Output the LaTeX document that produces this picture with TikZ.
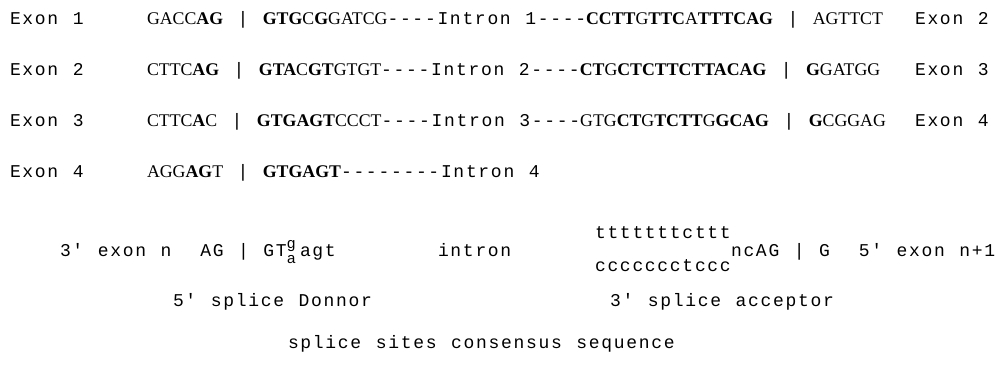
\documentclass[tikz,border=0pt]{standalone}
\usepackage{fontspec}
\setmainfont{Liberation Mono}[Ligatures=TeXOff]
\newfontfamily\cour{Liberation Mono}[Ligatures=TeXOff, LetterSpace=9.44, WordSpace=1.1574]
\newfontfamily\seqfont{Liberation Serif}[Ligatures=TeXOff]
\newfontfamily\supfont{Liberation Sans}[Ligatures=TeXOff]
\newcommand\cfs{\cour\fontsize{18}{22}\selectfont}
\newcommand\seqR[1]{{\seqfont\fontsize{17.8}{20}\selectfont #1}}
\newcommand\seqB[1]{{\seqfont\bfseries\fontsize{17.8}{20}\selectfont #1}}
\tikzset{txt/.style={inner sep=0pt, outer sep=0pt, anchor=base west, font=\cfs}}
\begin{document}
\begin{tikzpicture}[x=1pt,y=-1pt]
\useasboundingbox[fill=white] (0,0) rectangle (995,364);
% row 1
\node[txt] (e1) at (10,24) {Exon 1};
\node[txt] (s1) at (147,24) {\seqR{GACC}\seqB{AG} | \seqB{GTG}\seqR{C}\seqB{G}\seqR{GATCG}----Intron 1----\seqB{CCTT}\seqR{G}\seqB{TTC}\seqR{A}\seqB{TTTCAG} | \seqR{AGTTCT}};
\node[txt] (f1) at (915,24) {Exon 2};
% row 2
\node[txt] (e2) at (10,75) {Exon 2};
\node[txt] (s2) at (147,75) {\seqR{CTTC}\seqB{AG} | \seqB{GTA}\seqR{C}\seqB{GT}\seqR{GTGT}----Intron 2----\seqB{CT}\seqR{G}\seqB{CTCTTCTTACAG} | \seqB{G}\seqR{GATGG}};
\node[txt] (f2) at (915,75) {Exon 3};
% row 3
\node[txt] (e3) at (10,126) {Exon 3};
\node[txt] (s3) at (147,126) {\seqR{CTTC}\seqB{A}\seqR{C} | \seqB{GTGAGT}\seqR{CCCT}----Intron 3----\seqR{GTG}\seqB{CT}\seqR{G}\seqB{TCTT}\seqR{G}\seqB{GCAG} | \seqB{G}\seqR{CGGAG}};
\node[txt] (f3) at (915,126) {Exon 4};
% row 4
\node[txt] (e4) at (10,177) {Exon 4};
\node[txt] (s4) at (147,177) {\seqR{AGG}\seqB{AG}\seqR{T} | \seqB{GTGAGT}--------Intron 4};
% consensus
\node[txt] (don) at (60,256) {3'~exon~n~~AG~|~GT};
\node[txt] (dg) at (287,248) {\supfont\fontsize{15}{18}\selectfont g};
\node[txt] (da) at (287,263) {\supfont\fontsize{15}{18}\selectfont a};
\node[txt] (dagt) at (300,256) {agt};
\node[txt] (intr) at (438,256) {intron};
\node[txt] (pyt) at (595,238) {tttttttcttt};
\node[txt] (pyc) at (595,271) {ccccccctccc};
\node[txt] (acc) at (731,256) {ncAG~|~G~~5'~exon~n+1};
\node[txt] (ldon) at (173,306) {5'~splice~Donnor};
\node[txt] (lacc) at (610,306) {3'~splice~acceptor};
\node[txt] (title) at (288,348) {splice~sites~consensus~sequence};
\end{tikzpicture}
\end{document}
